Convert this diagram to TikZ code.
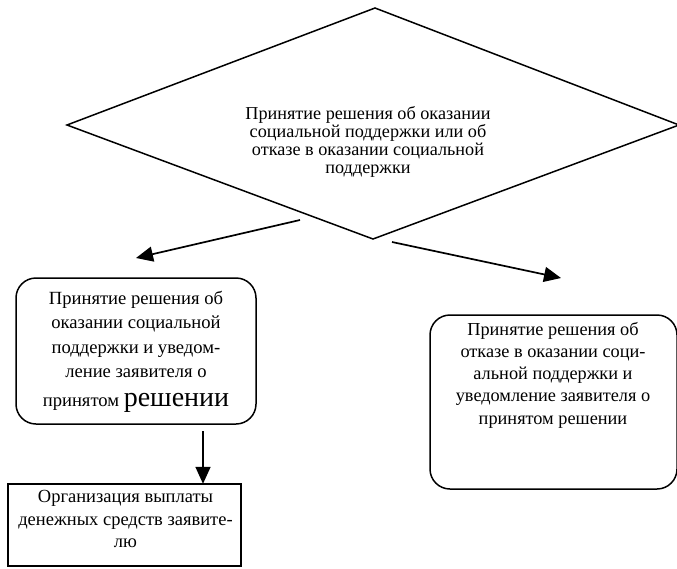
\documentclass[tikz,border=0pt]{standalone}
\usepackage{fontspec}
\setmainfont{Liberation Serif}
\usetikzlibrary{arrows.meta}
\tikzset{
  line/.style={line width=1.5pt},
  arr/.style={line width=1.7pt,-{Triangle[length=17pt,width=15pt]}},
  rbox/.style={draw,line width=1.5pt,rounded corners=20pt,inner sep=0pt},
  txt/.style={align=center,font=\fontsize{18.3}{22.3}\selectfont,inner sep=0pt},
}
\begin{document}
\begin{tikzpicture}[x=1pt,y=-1pt]
\useasboundingbox (0,0) rectangle (677,568);
% diamond
\coordinate (dt) at (375,8);
\coordinate (dr) at (679,125);
\coordinate (db) at (373,239);
\coordinate (dl) at (67,125);
\draw[line] (dt) -- (dr) -- (db) -- (dl) -- cycle;
\node[txt,font=\fontsize{18.2}{18}\selectfont] (dtext) at (368,142)
  {Принятие решения об оказании\\социальной поддержки или об\\отказе в оказании социальной\\поддержки};
% left rounded box
\draw[rbox] (16,278) rectangle (256,424);
\node (lbox) at (136,351) [minimum width=240pt,minimum height=146pt] {};
\node[txt,font=\fontsize{18.6}{24.5}\selectfont] (ltext) at (136,352)
  {Принятие решения об\\оказании социальной\\поддержки и уведом-\\ление заявителя о\\[4.5pt]принятом {\fontsize{28}{28}\selectfont решении}};
% right rounded box
\draw[rbox] (430,315) rectangle (677,489);
\node (rbox) at (553,402) [minimum width=247pt,minimum height=174pt] {};
\node[txt] (rtext) at (553,375)
  {Принятие решения об\\отказе в оказании соци-\\альной поддержки и\\уведомление заявителя о\\принятом решении};
% bottom rect
\draw[line width=2.4pt] (8,484) rectangle (241,566);
\node (bbox) at (124.5,525) [minimum width=233pt,minimum height=82pt] {};
\node[txt,font=\fontsize{18.5}{22.8}\selectfont] (btext) at (125.5,519)
  {Организация выплаты\\денежных средств заявите-\\лю};
% arrows
\coordinate (a1s) at (300,220);
\coordinate (a1e) at (136,258);
\coordinate (a2s) at (392,242);
\coordinate (a2e) at (561,278);
\coordinate (a3s) at (203,431);
\draw[arr] (a1s) -- (a1e);
\draw[arr] (a2s) -- (a2e);
\draw[arr] (a3s) -- (bbox.north -| a3s);
\end{tikzpicture}
\end{document}
